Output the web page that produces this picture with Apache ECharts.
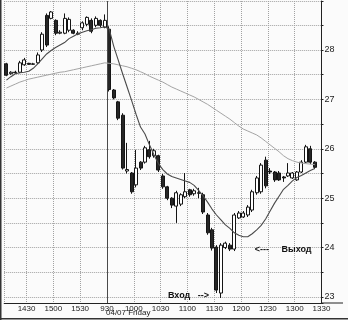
<!DOCTYPE html>
<html><head><meta charset="utf-8">
<script src="https://cdn.jsdelivr.net/npm/echarts@6/dist/echarts.min.js"></script>
<style>html,body{margin:0;padding:0;background:#fbfbfb}#c{width:348px;height:320px}</style>
</head><body><div id="c"></div>
<script>
// bar start times (5-minute bars): previous day afternoon, then 04/07 morning
const times = ['1405','1410','1415','1420','1425','1430','1435','1440','1445','1450','1455','1500','1505','1510','1515','1520','1525','1530','1535','1540','1545','1550','1555',
  '930','935','940','945','950','955','1000','1005','1010','1015','1020','1025','1030','1035','1040','1045','1050','1055',
  '1100','1105','1110','1115','1120','1125','1130','1135','1140','1145','1150','1155',
  '1200','1205','1210','1215','1220','1225','1230','1235','1240','1245','1250','1255',
  '1300','1305','1310','1315','1320'];
const openP = [27.72,27.52,27.55,27.55,27.70,27.73,27.71,27.74,28.00,28.70,28.64,28.60,28.34,28.34,28.40,28.40,28.32,28.45,28.52,28.60,28.50,28.60,28.46,
  28.42,27.19,26.95,26.68,25.55,25.51,25.27,25.73,25.73,25.98,25.86,25.86,25.45,25.23,25.00,24.84,24.88,25.03,25.17,25.09,25.11,25.07,24.66,24.36,24.01,23.08,24.00,24.05,23.97,24.60,24.62,24.66,24.76,25.11,25.13,25.77,25.55,25.53,25.51,25.43,25.45,25.41,25.37,25.53,25.73,26.00,25.73];
const closeP = [27.49,27.55,27.54,27.74,27.80,27.71,27.72,27.90,28.32,28.10,28.77,28.34,28.36,28.64,28.62,28.34,28.34,28.55,28.66,28.38,28.64,28.50,28.60,
  27.20,27.03,26.62,25.61,25.58,25.13,25.61,25.61,26.02,25.84,25.96,25.57,25.23,25.00,24.86,25.11,25.07,25.13,25.07,25.15,25.10,24.72,24.30,23.99,23.14,24.05,24.09,23.97,24.66,24.70,24.70,24.82,25.13,25.41,25.67,25.25,25.53,25.37,25.37,25.41,25.51,25.51,25.53,25.73,26.04,25.73,25.625];
const lowP = [27.47,27.50,27.52,27.53,27.68,27.70,27.70,27.72,27.96,28.06,28.62,28.30,28.32,28.32,28.36,28.32,28.30,28.40,28.48,28.34,28.46,28.46,28.44,
  27.16,27.00,26.58,25.58,25.50,25.09,25.22,25.57,25.70,25.80,25.82,25.53,25.19,24.96,24.80,24.50,24.84,25.00,25.03,25.05,25.00,24.68,24.26,23.94,23.08,22.98,23.97,23.93,23.93,24.58,24.60,24.62,24.72,25.07,25.09,25.20,25.49,25.33,25.35,25.33,25.43,25.39,25.35,25.51,25.71,25.69,25.59];
const highP = [27.74,27.57,27.58,27.78,27.84,27.74,27.74,27.95,28.36,28.74,28.79,28.62,28.40,28.74,28.66,28.42,28.38,28.58,28.68,28.64,28.68,28.62,28.72,
  28.48,27.21,26.97,26.72,26.12,25.53,25.98,25.75,26.06,26.16,26.00,25.88,25.49,25.25,25.02,25.15,25.10,25.51,25.19,25.19,25.21,25.11,24.70,24.40,24.05,24.09,24.12,24.09,24.70,24.74,24.74,24.86,25.17,25.45,25.71,25.84,25.61,25.55,25.55,25.45,25.71,25.53,25.55,25.77,26.08,26.06,25.75];
const maShort = [27.39,27.46,27.52,27.54,27.55,27.57,27.63,27.72,27.82,27.92,27.99,28.05,28.10,28.15,28.23,28.28,28.33,28.36,28.39,28.41,28.44,28.45,28.47,
  28.42,28.08,27.80,27.52,27.25,26.98,26.70,26.44,26.30,26.08,25.88,25.70,25.58,25.49,25.44,25.41,25.38,25.35,25.32,25.26,25.16,25.05,24.92,24.78,24.66,24.56,24.46,24.39,24.30,24.25,24.22,24.22,24.28,24.36,24.45,24.58,24.74,24.90,25.04,25.18,25.26,25.35,25.42,25.46,25.51,25.56,25.60];
const maLong = [27.23,27.27,27.31,27.35,27.38,27.41,27.43,27.45,27.47,27.49,27.51,27.53,27.55,27.56,27.58,27.60,27.62,27.64,27.66,27.68,27.70,27.72,27.74,
  27.73,27.72,27.70,27.68,27.66,27.63,27.60,27.56,27.52,27.47,27.43,27.39,27.35,27.30,27.25,27.21,27.17,27.13,27.09,27.05,27.00,26.95,26.90,26.84,26.78,26.72,26.66,26.60,26.53,26.46,26.40,26.36,26.32,26.28,26.22,26.15,26.08,26.01,25.94,25.86,25.80,25.76,25.73,25.71,25.70,25.69,25.68];
const tickLabels = ['1430','1500','1530','930','1000','1030','1100','1130','1200','1230','1300','1330'];
const priceLabels = [23,24,25,26,27,28];
const sessionBreak = '930';
const dateLabel = '04/07 Friday';
const entryNote = {text:'Вход   -->', time:'1130', price:23.03};
const exitNote = {text:'<---     Выход', time:'1210', price:23.96};

// time string -> 5-minute slot index (0 = 14:30 of the previous day, sessions joined at 16:00 / 9:30)
function slotOf(t){
  const n = parseInt(t,10), h = Math.floor(n/100), m = n%100, mins = h*60+m;
  return h >= 14 ? (mins-870)/5 : 18 + (mins-570)/5;
}
const centerOf = t => slotOf(t) + 0.5;
const xMin = slotOf(times[0]);
const xMax = slotOf(tickLabels[tickLabels.length-1]);
const candles = times.map((t,i)=>[centerOf(t), openP[i], closeP[i], lowP[i], highP[i]]);
const lineShort = times.map((t,i)=>[centerOf(t), maShort[i]]);
const lineLong = times.map((t,i)=>[centerOf(t), maLong[i]]);
const lastClose = closeP[closeP.length-1];
function eighths(v){ const w=Math.floor(v), e=Math.round((v-w)*8); return e? (w+' '+e+'/8') : String(w); }

const FONT = 'Liberation Sans';
const GRID = {color:'#a2a2a2', type:'dotted', width:1, opacity:1};
const chart = echarts.init(document.getElementById('c'), null, {renderer:'canvas'});
chart.setOption({
  animation:false,
  backgroundColor:'#fbfbfb',
  textStyle:{fontFamily:FONT},
  grid:{left:4.2, right:26.5, top:1, bottom:17, show:false},
  xAxis:{
    type:'value', min:xMin, max:xMax, minInterval:6, maxInterval:6,
    axisLine:{show:true, onZero:false, lineStyle:{color:'#222', width:1}},
    axisTick:{show:false},
    axisLabel:{fontSize:8, color:'#222', margin:2, fontFamily:FONT, hideOverlap:false,
      formatter:v=>{ const i = tickLabels.findIndex(l=>slotOf(l)===v); return i>=0 ? tickLabels[i] : ''; }},
    splitLine:{show:true, showMinLine:true, showMaxLine:true, lineStyle:GRID}
  },
  yAxis:{
    type:'value', position:'right', min:22.8785, max:28.9919, minInterval:0.5, maxInterval:0.5,
    axisLine:{show:true, onZero:false, lineStyle:{color:'#222', width:1}},
    axisTick:{show:true, length:2, lineStyle:{color:'#222'}},
    axisLabel:{fontSize:9, color:'#222', margin:3, fontFamily:FONT,
      formatter:v=> priceLabels.indexOf(v)>=0 ? String(v) : ''},
    splitLine:{show:true, showMinLine:true, showMaxLine:true, lineStyle:GRID}
  },
  series:[
    {type:'candlestick', data:candles, encode:{x:0, y:[1,2,3,4]}, barWidth:3.5, z:4,
      itemStyle:{color:'#ffffff', color0:'#262626', borderColor:'#151515', borderColor0:'#151515', borderWidth:1},
      markLine:{silent:true, symbol:['none','none'], animation:false,
        data:[
          {xAxis:slotOf(sessionBreak), lineStyle:{color:'#4a4a4a', type:'solid', width:1}, label:{show:false}},
          {yAxis:lastClose, lineStyle:{opacity:0}, label:{show:true, position:'end', distance:0,
             formatter:()=>eighths(lastClose), backgroundColor:'#111', color:'#fff', fontSize:8, fontFamily:FONT, padding:[2,2,1,2]}}
        ]},
      markPoint:{silent:true, symbol:'circle', symbolSize:1, itemStyle:{color:'rgba(0,0,0,0)'}, animation:false,
        data:[
          {coord:[centerOf(entryNote.time), entryNote.price], label:{show:true, position:'left', distance:7, formatter:entryNote.text, color:'#111', fontSize:9, fontWeight:'bold', fontFamily:FONT}},
          {coord:[centerOf(exitNote.time), exitNote.price], label:{show:true, position:'right', distance:2, formatter:exitNote.text, color:'#111', fontSize:9, fontWeight:'bold', fontFamily:FONT}}
        ]}
    },
    {type:'line', data:lineLong, showSymbol:false, symbol:'none', lineStyle:{color:'#a4a4a4', width:1}, z:5},
    {type:'line', data:lineShort, showSymbol:false, symbol:'none', lineStyle:{color:'#4a4a4a', width:1.1}, z:5}
  ]
});
const sepPx = chart.convertToPixel({xAxisIndex:0}, slotOf(sessionBreak));
const gridRight = chart.convertToPixel({xAxisIndex:0}, xMax);
const axisY = chart.convertToPixel({yAxisIndex:0}, 22.8785);
chart.setOption({graphic:[
  {type:'text', left:sepPx-1, top:309, style:{text:dateLabel, fontSize:8, fill:'#222', fontFamily:FONT}},
  {type:'line', shape:{x1:gridRight,y1:axisY,x2:343,y2:axisY}, style:{stroke:'#222', lineWidth:1}},
  {type:'line', shape:{x1:0.75,y1:0,x2:0.75,y2:320}, style:{stroke:'#333', lineWidth:1.5}},
  {type:'line', shape:{x1:0,y1:318.75,x2:348,y2:318.75}, style:{stroke:'#333', lineWidth:1.5}}
]});
</script></body></html>
